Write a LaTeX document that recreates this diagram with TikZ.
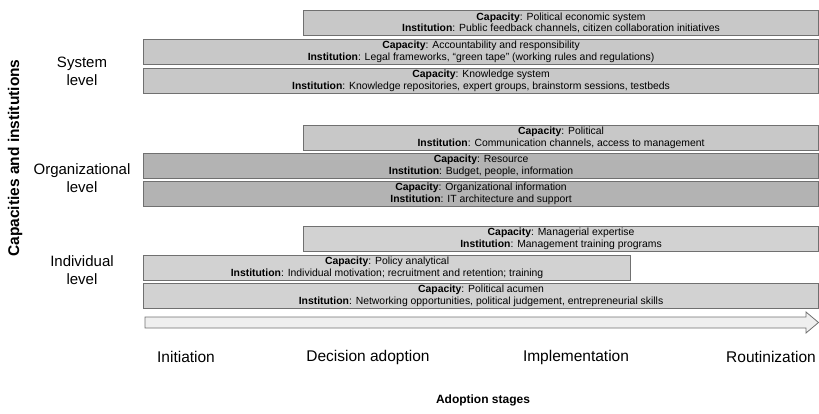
\documentclass[tikz,border=0pt]{standalone}
\usepackage{fontspec}
\setmainfont{Liberation Sans}

\definecolor{barline}{HTML}{707070}
\definecolor{barlight}{HTML}{D2D2D2}
\definecolor{barmid}{HTML}{C8C8C8}
\definecolor{bardark}{HTML}{B3B3B3}
\definecolor{arrowfill}{HTML}{EFEFEF}

\tikzset{
    bar/.style = {
        rectangle,
        anchor=north west,
        minimum height=25pt,
        inner sep=0pt,
        align=center,
        draw=barline,
        line width=1.1pt,
        fill=barlight,
        font=\fontsize{10.4}{11.6}\selectfont
    },
    fullbar/.style = {bar, minimum width=675pt},
    halfbar/.style = {bar, minimum width=515pt},
    level/.style = {
        align=center,
        font=\fontsize{15}{18}\selectfont
    },
    stage/.style = {
        font=\fontsize{15.5}{17}\selectfont
    },
    axislabel/.style = {
        font=\fontsize{12}{14}\selectfont\bfseries
    }
}

\newcommand{\capinst}[2]{\textbf{Capacity}: #1\\\textbf{Institution}: #2}

\begin{document}
\begin{tikzpicture}[x=1pt, y=-1pt]

\useasboundingbox (0,0) rectangle (819,414);

% System level
\node (sysecon) [halfbar, fill=barmid] at (303,10) {\capinst{Political economic system}{Public feedback channels, citizen collaboration initiatives}};
\node (sysacc) [fullbar, fill=barmid] at (143,39) {\capinst{Accountability and responsibility}{Legal frameworks, ``green tape'' (working rules and regulations)}};
\node (sysknow) [fullbar, fill=barmid] at (143,68) {\capinst{Knowledge system}{Knowledge repositories, expert groups, brainstorm sessions, testbeds}};

% Organizational level
\node (orgpol) [halfbar, fill=barmid] at (303,125) {\capinst{Political}{Communication channels, access to management}};
\node (orgres) [fullbar, fill=bardark] at (143,153) {\capinst{Resource}{Budget, people, information}};
\node (orginfo) [fullbar, fill=bardark] at (143,181) {\capinst{Organizational information}{IT architecture and support}};

% Individual level
\node (indmgr) [halfbar] at (303,226) {\capinst{Managerial expertise}{Management training programs}};
\node (indpol) [bar, minimum width=487pt] at (143,255) {\capinst{Policy analytical}{Individual motivation; recruitment and retention; training}};
\node (indacu) [fullbar] at (143,283) {\capinst{Political acumen}{Networking opportunities, political judgement, entrepreneurial skills}};

% Level labels
\node (syslvl) [level] at (82,71) {System\\level};
\node (orglvl) [level] at (82,178) {Organizational\\level};
\node (indlvl) [level] at (82,270) {Individual\\level};
\node (yaxis) [axislabel, font=\fontsize{15.5}{17}\selectfont\bfseries, rotate=90] at (15,158) {Capacities and institutions};

% Stage arrow
\draw [draw=barline, line width=0.8pt, fill=arrowfill]
    (145,317) -- (806,317) -- (806,312) -- (818.5,322.5) -- (806,333) -- (806,328) -- (145,328) -- cycle;

% Stages
\node (init) [stage] at (186,357) {Initiation};
\node (decide) [stage] at (368,357) {Decision adoption};
\node (impl) [stage] at (576,357) {Implementation};
\node (routine) [stage] at (771,357) {Routinization};
\node (xaxis) [axislabel] at (483,400) {Adoption stages};

\end{tikzpicture}
\end{document}
